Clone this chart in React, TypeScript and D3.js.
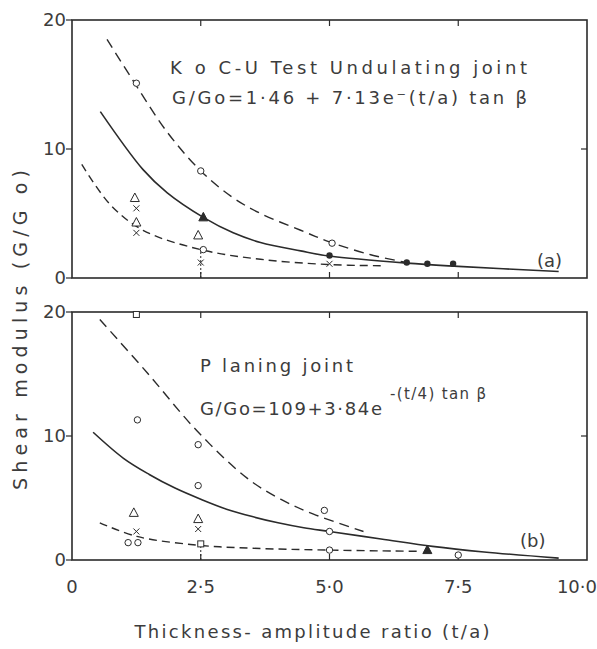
import React from 'react';
import * as d3 from 'd3';

// ---- data ----
const xTicks = [0, 2.5, 5, 7.5, 10];
const xTickLabels = ['0', '2·5', '5·0', '7·5', '10·0'];
const yTicks = [0, 10, 20];

// panel (a) undulating joint
const aSolid: [number, number][] = [
  [0.55, 12.9], [1.38, 8.4], [1.85, 6.6], [2.55, 4.7], [3.13, 3.5], [3.66, 2.75],
  [4.44, 2.1], [5.0, 1.7], [6.5, 1.15], [7.5, 0.9], [9.45, 0.5],
];
const aUpper: [number, number][] = [
  [0.68, 18.5], [1.25, 14.9], [1.85, 11.3], [2.5, 8.3], [3.1, 6.3], [3.66, 5.0],
  [4.44, 3.7], [5.0, 2.8], [5.8, 1.8], [6.5, 1.2],
];
const aLower: [number, number][] = [
  [0.19, 8.8], [0.74, 5.7], [1.38, 3.7], [2.5, 2.2], [3.66, 1.45], [4.96, 1.05],
  [6.0, 0.95],
];
const aMarkers = [
  { x: 1.25, y: 15.1, s: 'circle' },
  { x: 2.5, y: 8.3, s: 'circle' },
  { x: 5.05, y: 2.7, s: 'circle' },
  { x: 1.22, y: 6.2, s: 'triangle' },
  { x: 1.25, y: 5.4, s: 'cross' },
  { x: 1.25, y: 4.3, s: 'triangle' },
  { x: 1.25, y: 3.5, s: 'cross' },
  { x: 2.55, y: 4.7, s: 'filledTriangle' },
  { x: 2.45, y: 3.3, s: 'triangle' },
  { x: 2.55, y: 2.2, s: 'circle' },
  { x: 2.5, y: 1.2, s: 'cross' },
  { x: 5.0, y: 1.75, s: 'dot' },
  { x: 5.0, y: 1.1, s: 'cross' },
  { x: 6.5, y: 1.2, s: 'dot' },
  { x: 6.9, y: 1.1, s: 'dot' },
  { x: 7.4, y: 1.1, s: 'dot' },
];
const aBars = [{ x: 2.5, y0: 0, y1: 2.2 }];

// panel (b) planing joint
const bSolid: [number, number][] = [
  [0.41, 10.3], [1.0, 8.2], [1.5, 6.9], [2.0, 5.8], [2.5, 4.9], [3.0, 4.1],
  [3.5, 3.5], [4.0, 3.0], [4.5, 2.6], [5.0, 2.3], [6.0, 1.7], [7.0, 1.1],
  [8.0, 0.65], [9.45, 0.15],
];
const bUpper: [number, number][] = [
  [0.54, 19.4], [1.46, 15.1], [2.43, 10.4], [3.4, 6.6], [4.05, 4.9], [4.69, 3.7],
  [5.66, 2.3],
];
const bLower: [number, number][] = [
  [0.54, 3.0], [1.26, 1.9], [2.43, 1.2], [3.5, 0.95], [4.96, 0.8], [6.7, 0.7],
];
const bMarkers = [
  { x: 1.25, y: 19.8, s: 'square' },
  { x: 1.27, y: 11.3, s: 'circle' },
  { x: 2.45, y: 9.3, s: 'circle' },
  { x: 2.45, y: 6.0, s: 'circle' },
  { x: 1.2, y: 3.8, s: 'triangle' },
  { x: 1.25, y: 2.3, s: 'cross' },
  { x: 1.09, y: 1.4, s: 'circle' },
  { x: 1.28, y: 1.4, s: 'circle' },
  { x: 2.45, y: 3.3, s: 'triangle' },
  { x: 2.45, y: 2.5, s: 'cross' },
  { x: 2.5, y: 1.3, s: 'square' },
  { x: 4.9, y: 4.0, s: 'circle' },
  { x: 5.0, y: 2.3, s: 'circle' },
  { x: 5.0, y: 0.8, s: 'circle' },
  { x: 6.9, y: 0.8, s: 'filledTriangle' },
  { x: 7.5, y: 0.4, s: 'circle' },
];
const bBars = [{ x: 2.5, y0: 0, y1: 1.3 }];

const INK = '#2b2b2b';
const TXT = '#3c3c3c';
const FONT = '"DejaVu Sans", sans-serif';

const x = d3.scaleLinear().domain([0, 10]).range([72, 587]);

function Marker({ s, cx, cy }: { s: string; cx: number; cy: number }) {
  if (s === 'circle') return <circle cx={cx} cy={cy} r={3.2} fill="white" stroke={INK} strokeWidth={1} />;
  if (s === 'dot') return <circle cx={cx} cy={cy} r={3.2} fill={INK} />;
  if (s === 'square') return <rect x={cx - 3} y={cy - 3} width={6} height={6} fill="white" stroke={INK} strokeWidth={1} />;
  if (s === 'triangle' || s === 'filledTriangle') {
    const p = `M${cx},${cy - 5}L${cx + 4.5},${cy + 3.5}L${cx - 4.5},${cy + 3.5}Z`;
    return <path d={p} fill={s === 'filledTriangle' ? INK : 'white'} stroke={INK} strokeWidth={1} />;
  }
  // cross
  return (
    <path d={`M${cx - 3},${cy - 3}L${cx + 3},${cy + 3}M${cx + 3},${cy - 3}L${cx - 3},${cy + 3}`}
      stroke={INK} strokeWidth={1} />
  );
}

function Panel({ top, bottom, solid, upper, lower, markers, bars, tag, tagPos, children }: any) {
  const y = d3.scaleLinear().domain([0, 20]).range([bottom, top]);
  const line = d3.line<[number, number]>()
    .x(d => x(d[0]))
    .y(d => y(d[1]))
    .curve(d3.curveCatmullRom.alpha(0.5));
  return (
    <g>
      <rect x={x(0)} y={y(20)} width={x(10) - x(0)} height={y(0) - y(20)}
        fill="none" stroke={INK} strokeWidth={1.6} />
      {/* inner ticks */}
      {xTicks.slice(1, -1).map(t => (
        <g key={t}>
          <line x1={x(t)} x2={x(t)} y1={y(20)} y2={y(20) + 6} stroke={INK} strokeWidth={1.2} />
          <line x1={x(t)} x2={x(t)} y1={y(0)} y2={y(0) - 6} stroke={INK} strokeWidth={1.2} />
        </g>
      ))}
      {yTicks.map(t => (
        <g key={t}>
          <line x1={x(0) - 6} x2={x(0)} y1={y(t)} y2={y(t)} stroke={INK} strokeWidth={1.2} />
          {t === 10 && <line x1={x(10) - 6} x2={x(10)} y1={y(t)} y2={y(t)} stroke={INK} strokeWidth={1.2} />}
          <text x={x(0) - 6} y={y(t)} dy="0.36em" textAnchor="end" fontSize={18}
            fontFamily={FONT} fill={TXT}>{t}</text>
        </g>
      ))}
      {bars.map((b: any, i: number) => (
        <line key={i} x1={x(b.x)} x2={x(b.x)} y1={y(b.y0)} y2={y(b.y1)}
          stroke={INK} strokeWidth={1} strokeDasharray="2,2" />
      ))}
      <path d={line(upper) || ''} fill="none" stroke={INK} strokeWidth={1.4} strokeDasharray="10,6" />
      <path d={line(lower) || ''} fill="none" stroke={INK} strokeWidth={1.4} strokeDasharray="8,5" />
      <path d={line(solid) || ''} fill="none" stroke={INK} strokeWidth={1.6} />
      {markers.map((m: any, i: number) => (
        <Marker key={i} s={m.s} cx={x(m.x)} cy={y(m.y)} />
      ))}
      <text x={tagPos[0]} y={tagPos[1]} fontSize={18} fontFamily={FONT} fill={TXT}>{tag}</text>
      {children}
    </g>
  );
}

export default function App() {
  const t = { fontFamily: FONT, fill: TXT } as any;
  return (
    <svg width={597} height={649} style={{ position: 'absolute', left: 0, top: 0, background: 'white' }}>
      <rect width={597} height={649} fill="white" />
      <Panel top={20} bottom={278} solid={aSolid} upper={aUpper} lower={aLower}
        markers={aMarkers} bars={aBars} tag="(a)" tagPos={[537, 267]}>
        <text x={170} y={74} fontSize={18} textLength={357} lengthAdjust="spacing" {...t}>
          K o  C-U Test  Undulating joint
        </text>
        <text x={172} y={104} fontSize={18} {...t} textLength={355} lengthAdjust="spacing">
          G/Go=1·46 + 7·13e⁻(t/a) tan β
        </text>
      </Panel>
      <Panel top={312} bottom={560} solid={bSolid} upper={bUpper} lower={bLower}
        markers={bMarkers} bars={bBars} tag="(b)" tagPos={[520, 547]}>
        <text x={200} y={372} fontSize={18} textLength={153} lengthAdjust="spacing" {...t}>
          P laning  joint
        </text>
        <text x={200} y={415} fontSize={18} textLength={182} lengthAdjust="spacing" {...t}>
          G/Go=109+3·84e
        </text>
        <text x={390} y={399} fontSize={15} textLength={96} lengthAdjust="spacing" {...t}>
          -(t/4) tan β
        </text>
      </Panel>
      {xTicks.map((v, i) => (
        <text key={v} x={i === xTicks.length - 1 ? 597 : x(v)} y={593}
          textAnchor={i === xTicks.length - 1 ? 'end' : 'middle'}
          fontSize={18} {...t}>{xTickLabels[i]}</text>
      ))}
      <text x={312} y={638} textAnchor="middle" fontSize={18} textLength={355}
        lengthAdjust="spacing" {...t}>Thickness- amplitude ratio (t/a)</text>
      <text transform="translate(27,330) rotate(-90)" textAnchor="middle" fontSize={19}
        textLength={320} lengthAdjust="spacing" {...t}>Shear  modulus (G/G o)</text>
    </svg>
  );
}
